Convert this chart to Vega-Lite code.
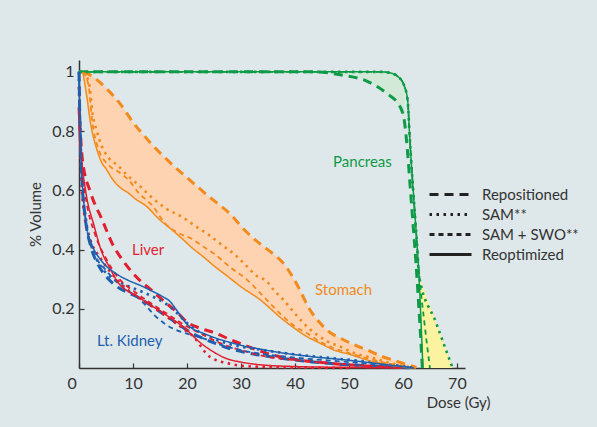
{
  "$schema": "https://vega.github.io/schema/vega-lite/v6.json",
  "width": 386,
  "height": 308,
  "autosize": {"type": "none"},
  "padding": {"left": 79, "top": 60, "right": 132, "bottom": 59},
  "background": "#dee8ea",
  "config": {
    "view": {"stroke": null},
    "font": "Lato",
    "axis": {"labelFont": "Lato", "titleFont": "Lato", "labelColor": "#333333", "titleColor": "#333333", "domainColor": "#333333", "tickColor": "#333333", "grid": false, "labelFontSize": 16, "titleFontSize": 15, "titleFontWeight": "normal", "domainWidth": 1.5, "tickWidth": 1.2},
    "legend": {"labelFont": "Lato", "labelFontSize": 15, "labelColor": "#333333"}
  },
  "datasets": {
    "fills": [
      {"organ": "Stomach", "x": 0.7, "lo": 1.0, "hi": 1.0},
      {"organ": "Stomach", "x": 1.3, "lo": 0.934, "hi": 0.995},
      {"organ": "Stomach", "x": 2.5, "lo": 0.8, "hi": 0.985},
      {"organ": "Stomach", "x": 3.45, "lo": 0.73, "hi": 0.97},
      {"organ": "Stomach", "x": 5, "lo": 0.673, "hi": 0.945},
      {"organ": "Stomach", "x": 7.5, "lo": 0.611, "hi": 0.895},
      {"organ": "Stomach", "x": 10, "lo": 0.58, "hi": 0.83},
      {"organ": "Stomach", "x": 13, "lo": 0.535, "hi": 0.765},
      {"organ": "Stomach", "x": 16.5, "lo": 0.475, "hi": 0.7},
      {"organ": "Stomach", "x": 20.5, "lo": 0.415, "hi": 0.635},
      {"organ": "Stomach", "x": 24, "lo": 0.36, "hi": 0.58},
      {"organ": "Stomach", "x": 28, "lo": 0.3, "hi": 0.52},
      {"organ": "Stomach", "x": 31, "lo": 0.26, "hi": 0.46},
      {"organ": "Stomach", "x": 33.5, "lo": 0.231, "hi": 0.42},
      {"organ": "Stomach", "x": 36, "lo": 0.19, "hi": 0.385},
      {"organ": "Stomach", "x": 37.8, "lo": 0.163, "hi": 0.355},
      {"organ": "Stomach", "x": 39.5, "lo": 0.14, "hi": 0.31},
      {"organ": "Stomach", "x": 41, "lo": 0.122, "hi": 0.26},
      {"organ": "Stomach", "x": 42.5, "lo": 0.103, "hi": 0.205},
      {"organ": "Stomach", "x": 44.5, "lo": 0.085, "hi": 0.155},
      {"organ": "Stomach", "x": 46.5, "lo": 0.068, "hi": 0.12},
      {"organ": "Stomach", "x": 48.5, "lo": 0.056, "hi": 0.1},
      {"organ": "Stomach", "x": 51, "lo": 0.041, "hi": 0.078},
      {"organ": "Stomach", "x": 53.5, "lo": 0.027, "hi": 0.06},
      {"organ": "Stomach", "x": 56, "lo": 0.016, "hi": 0.04},
      {"organ": "Stomach", "x": 58.5, "lo": 0.007, "hi": 0.025},
      {"organ": "Stomach", "x": 61, "lo": 0.002, "hi": 0.01},
      {"organ": "Stomach", "x": 62.5, "lo": 0, "hi": 0.002},
      {"organ": "Pancreas", "x": 44, "lo": 1.0, "hi": 1.0},
      {"organ": "Pancreas", "x": 48.4, "lo": 0.99, "hi": 1.0},
      {"organ": "Pancreas", "x": 53.4, "lo": 0.968, "hi": 1.0},
      {"organ": "Pancreas", "x": 56, "lo": 0.94, "hi": 1.0},
      {"organ": "Pancreas", "x": 57.5, "lo": 0.915, "hi": 0.997},
      {"organ": "Pancreas", "x": 59, "lo": 0.89, "hi": 0.985},
      {"organ": "Pancreas", "x": 59.6, "lo": 0.878, "hi": 0.975},
      {"organ": "Pancreas", "x": 60.3, "lo": 0.83, "hi": 0.95}
    ],
    "yellow": [
      {"y": 0.31, "left": 63.0, "right": 63.0},
      {"y": 0.18, "left": 63.3, "right": 65.6},
      {"y": 0.0, "left": 63.7, "right": 69.2}
    ],
    "labels": [
      {"organ": "Pancreas", "label": "Pancreas", "x": 52.5, "y": 0.697},
      {"organ": "Liver", "label": "Liver", "x": 12.8, "y": 0.4},
      {"organ": "Stomach", "label": "Stomach", "x": 49.0, "y": 0.264},
      {"organ": "Lt. Kidney", "label": "Lt. Kidney", "x": 9.4, "y": 0.09}
    ],
    "lines": [
      {"organ": "Pancreas", "style": "Repositioned", "x": 0, "y": 1},
      {"organ": "Pancreas", "style": "Repositioned", "x": 44, "y": 1},
      {"organ": "Pancreas", "style": "Repositioned", "x": 48.4, "y": 0.99},
      {"organ": "Pancreas", "style": "Repositioned", "x": 53.4, "y": 0.968},
      {"organ": "Pancreas", "style": "Repositioned", "x": 56.8, "y": 0.93},
      {"organ": "Pancreas", "style": "Repositioned", "x": 59.6, "y": 0.878},
      {"organ": "Pancreas", "style": "Repositioned", "x": 60.3, "y": 0.83},
      {"organ": "Pancreas", "style": "Repositioned", "x": 60.9, "y": 0.72},
      {"organ": "Pancreas", "style": "Repositioned", "x": 61.4, "y": 0.6},
      {"organ": "Pancreas", "style": "Repositioned", "x": 61.9, "y": 0.48},
      {"organ": "Pancreas", "style": "Repositioned", "x": 62.4, "y": 0.36},
      {"organ": "Pancreas", "style": "Repositioned", "x": 62.9, "y": 0.22},
      {"organ": "Pancreas", "style": "Repositioned", "x": 63.3, "y": 0.1},
      {"organ": "Pancreas", "style": "Repositioned", "x": 63.6, "y": 0},
      {"organ": "Pancreas", "style": "SAM**", "x": 0, "y": 1},
      {"organ": "Pancreas", "style": "SAM**", "x": 56, "y": 1},
      {"organ": "Pancreas", "style": "SAM**", "x": 57.5, "y": 0.997},
      {"organ": "Pancreas", "style": "SAM**", "x": 59, "y": 0.985},
      {"organ": "Pancreas", "style": "SAM**", "x": 60.2, "y": 0.955},
      {"organ": "Pancreas", "style": "SAM**", "x": 60.9, "y": 0.9},
      {"organ": "Pancreas", "style": "SAM**", "x": 61.2, "y": 0.8},
      {"organ": "Pancreas", "style": "SAM**", "x": 61.6, "y": 0.68},
      {"organ": "Pancreas", "style": "SAM**", "x": 62.1, "y": 0.55},
      {"organ": "Pancreas", "style": "SAM**", "x": 62.6, "y": 0.42},
      {"organ": "Pancreas", "style": "SAM**", "x": 63.0, "y": 0.31},
      {"organ": "Pancreas", "style": "SAM**", "x": 66.1, "y": 0.155},
      {"organ": "Pancreas", "style": "SAM**", "x": 69.2, "y": 0},
      {"organ": "Pancreas", "style": "SAM + SWO**", "x": 0, "y": 1},
      {"organ": "Pancreas", "style": "SAM + SWO**", "x": 56, "y": 1},
      {"organ": "Pancreas", "style": "SAM + SWO**", "x": 57.5, "y": 0.997},
      {"organ": "Pancreas", "style": "SAM + SWO**", "x": 59, "y": 0.985},
      {"organ": "Pancreas", "style": "SAM + SWO**", "x": 60.2, "y": 0.955},
      {"organ": "Pancreas", "style": "SAM + SWO**", "x": 60.9, "y": 0.9},
      {"organ": "Pancreas", "style": "SAM + SWO**", "x": 61.2, "y": 0.8},
      {"organ": "Pancreas", "style": "SAM + SWO**", "x": 61.6, "y": 0.68},
      {"organ": "Pancreas", "style": "SAM + SWO**", "x": 62.1, "y": 0.55},
      {"organ": "Pancreas", "style": "SAM + SWO**", "x": 62.6, "y": 0.42},
      {"organ": "Pancreas", "style": "SAM + SWO**", "x": 63.1, "y": 0.3},
      {"organ": "Pancreas", "style": "SAM + SWO**", "x": 64, "y": 0.15},
      {"organ": "Pancreas", "style": "SAM + SWO**", "x": 65, "y": 0},
      {"organ": "Pancreas", "style": "Reoptimized", "x": 0, "y": 1},
      {"organ": "Pancreas", "style": "Reoptimized", "x": 56, "y": 1},
      {"organ": "Pancreas", "style": "Reoptimized", "x": 57.5, "y": 0.997},
      {"organ": "Pancreas", "style": "Reoptimized", "x": 59, "y": 0.985},
      {"organ": "Pancreas", "style": "Reoptimized", "x": 60.2, "y": 0.955},
      {"organ": "Pancreas", "style": "Reoptimized", "x": 60.9, "y": 0.9},
      {"organ": "Pancreas", "style": "Reoptimized", "x": 61.2, "y": 0.8},
      {"organ": "Pancreas", "style": "Reoptimized", "x": 61.6, "y": 0.68},
      {"organ": "Pancreas", "style": "Reoptimized", "x": 62.1, "y": 0.55},
      {"organ": "Pancreas", "style": "Reoptimized", "x": 62.6, "y": 0.42},
      {"organ": "Pancreas", "style": "Reoptimized", "x": 63.0, "y": 0.3},
      {"organ": "Pancreas", "style": "Reoptimized", "x": 63.3, "y": 0.18},
      {"organ": "Pancreas", "style": "Reoptimized", "x": 63.7, "y": 0},

      {"organ": "Stomach", "style": "Repositioned", "x": 0.8, "y": 1},
      {"organ": "Stomach", "style": "Repositioned", "x": 2.5, "y": 0.985},
      {"organ": "Stomach", "style": "Repositioned", "x": 5, "y": 0.945},
      {"organ": "Stomach", "style": "Repositioned", "x": 7.5, "y": 0.895},
      {"organ": "Stomach", "style": "Repositioned", "x": 10, "y": 0.83},
      {"organ": "Stomach", "style": "Repositioned", "x": 13, "y": 0.765},
      {"organ": "Stomach", "style": "Repositioned", "x": 16.5, "y": 0.7},
      {"organ": "Stomach", "style": "Repositioned", "x": 20.5, "y": 0.635},
      {"organ": "Stomach", "style": "Repositioned", "x": 24, "y": 0.58},
      {"organ": "Stomach", "style": "Repositioned", "x": 28, "y": 0.52},
      {"organ": "Stomach", "style": "Repositioned", "x": 31, "y": 0.46},
      {"organ": "Stomach", "style": "Repositioned", "x": 33.5, "y": 0.42},
      {"organ": "Stomach", "style": "Repositioned", "x": 36, "y": 0.385},
      {"organ": "Stomach", "style": "Repositioned", "x": 37.8, "y": 0.355},
      {"organ": "Stomach", "style": "Repositioned", "x": 39.5, "y": 0.31},
      {"organ": "Stomach", "style": "Repositioned", "x": 41, "y": 0.26},
      {"organ": "Stomach", "style": "Repositioned", "x": 42.5, "y": 0.205},
      {"organ": "Stomach", "style": "Repositioned", "x": 44.5, "y": 0.155},
      {"organ": "Stomach", "style": "Repositioned", "x": 46.5, "y": 0.12},
      {"organ": "Stomach", "style": "Repositioned", "x": 48.5, "y": 0.1},
      {"organ": "Stomach", "style": "Repositioned", "x": 51, "y": 0.078},
      {"organ": "Stomach", "style": "Repositioned", "x": 53.5, "y": 0.06},
      {"organ": "Stomach", "style": "Repositioned", "x": 56, "y": 0.04},
      {"organ": "Stomach", "style": "Repositioned", "x": 58.5, "y": 0.025},
      {"organ": "Stomach", "style": "Repositioned", "x": 61, "y": 0.01},
      {"organ": "Stomach", "style": "Repositioned", "x": 62.5, "y": 0.002},
      {"organ": "Stomach", "style": "SAM**", "x": 0.8, "y": 1},
      {"organ": "Stomach", "style": "SAM**", "x": 1.9, "y": 0.957},
      {"organ": "Stomach", "style": "SAM**", "x": 2.5, "y": 0.86},
      {"organ": "Stomach", "style": "SAM**", "x": 3.3, "y": 0.8},
      {"organ": "Stomach", "style": "SAM**", "x": 4.2, "y": 0.75},
      {"organ": "Stomach", "style": "SAM**", "x": 5.6, "y": 0.707},
      {"organ": "Stomach", "style": "SAM**", "x": 7.1, "y": 0.685},
      {"organ": "Stomach", "style": "SAM**", "x": 9, "y": 0.65},
      {"organ": "Stomach", "style": "SAM**", "x": 11.1, "y": 0.617},
      {"organ": "Stomach", "style": "SAM**", "x": 13.6, "y": 0.574},
      {"organ": "Stomach", "style": "SAM**", "x": 16, "y": 0.54},
      {"organ": "Stomach", "style": "SAM**", "x": 19.2, "y": 0.509},
      {"organ": "Stomach", "style": "SAM**", "x": 21.5, "y": 0.48},
      {"organ": "Stomach", "style": "SAM**", "x": 24.2, "y": 0.447},
      {"organ": "Stomach", "style": "SAM**", "x": 26.5, "y": 0.415},
      {"organ": "Stomach", "style": "SAM**", "x": 29.1, "y": 0.379},
      {"organ": "Stomach", "style": "SAM**", "x": 31, "y": 0.345},
      {"organ": "Stomach", "style": "SAM**", "x": 33, "y": 0.31},
      {"organ": "Stomach", "style": "SAM**", "x": 34.7, "y": 0.294},
      {"organ": "Stomach", "style": "SAM**", "x": 36, "y": 0.265},
      {"organ": "Stomach", "style": "SAM**", "x": 37.8, "y": 0.231},
      {"organ": "Stomach", "style": "SAM**", "x": 39.5, "y": 0.195},
      {"organ": "Stomach", "style": "SAM**", "x": 41, "y": 0.163},
      {"organ": "Stomach", "style": "SAM**", "x": 42.5, "y": 0.135},
      {"organ": "Stomach", "style": "SAM**", "x": 44.1, "y": 0.112},
      {"organ": "Stomach", "style": "SAM**", "x": 46, "y": 0.09},
      {"organ": "Stomach", "style": "SAM**", "x": 48.4, "y": 0.072},
      {"organ": "Stomach", "style": "SAM**", "x": 51, "y": 0.05},
      {"organ": "Stomach", "style": "SAM**", "x": 54.6, "y": 0.033},
      {"organ": "Stomach", "style": "SAM**", "x": 58, "y": 0.015},
      {"organ": "Stomach", "style": "SAM**", "x": 61, "y": 0.004},
      {"organ": "Stomach", "style": "SAM + SWO**", "x": 0.8, "y": 1},
      {"organ": "Stomach", "style": "SAM + SWO**", "x": 1.8, "y": 0.95},
      {"organ": "Stomach", "style": "SAM + SWO**", "x": 2.4, "y": 0.84},
      {"organ": "Stomach", "style": "SAM + SWO**", "x": 3.6, "y": 0.74},
      {"organ": "Stomach", "style": "SAM + SWO**", "x": 5.5, "y": 0.685},
      {"organ": "Stomach", "style": "SAM + SWO**", "x": 7.5, "y": 0.66},
      {"organ": "Stomach", "style": "SAM + SWO**", "x": 9.2, "y": 0.635},
      {"organ": "Stomach", "style": "SAM + SWO**", "x": 11.1, "y": 0.59},
      {"organ": "Stomach", "style": "SAM + SWO**", "x": 13.5, "y": 0.55},
      {"organ": "Stomach", "style": "SAM + SWO**", "x": 16.1, "y": 0.485},
      {"organ": "Stomach", "style": "SAM + SWO**", "x": 18.5, "y": 0.455},
      {"organ": "Stomach", "style": "SAM + SWO**", "x": 21, "y": 0.435},
      {"organ": "Stomach", "style": "SAM + SWO**", "x": 23, "y": 0.41},
      {"organ": "Stomach", "style": "SAM + SWO**", "x": 25.4, "y": 0.381},
      {"organ": "Stomach", "style": "SAM + SWO**", "x": 28, "y": 0.34},
      {"organ": "Stomach", "style": "SAM + SWO**", "x": 31, "y": 0.3},
      {"organ": "Stomach", "style": "SAM + SWO**", "x": 34.1, "y": 0.243},
      {"organ": "Stomach", "style": "SAM + SWO**", "x": 37.8, "y": 0.174},
      {"organ": "Stomach", "style": "SAM + SWO**", "x": 40, "y": 0.14},
      {"organ": "Stomach", "style": "SAM + SWO**", "x": 42.2, "y": 0.118},
      {"organ": "Stomach", "style": "SAM + SWO**", "x": 44.5, "y": 0.09},
      {"organ": "Stomach", "style": "SAM + SWO**", "x": 46.5, "y": 0.072},
      {"organ": "Stomach", "style": "SAM + SWO**", "x": 50, "y": 0.05},
      {"organ": "Stomach", "style": "SAM + SWO**", "x": 54, "y": 0.03},
      {"organ": "Stomach", "style": "SAM + SWO**", "x": 58, "y": 0.012},
      {"organ": "Stomach", "style": "SAM + SWO**", "x": 61, "y": 0.003},
      {"organ": "Stomach", "style": "Reoptimized", "x": 0.7, "y": 1},
      {"organ": "Stomach", "style": "Reoptimized", "x": 1.3, "y": 0.934},
      {"organ": "Stomach", "style": "Reoptimized", "x": 2.2, "y": 0.82},
      {"organ": "Stomach", "style": "Reoptimized", "x": 3.45, "y": 0.73},
      {"organ": "Stomach", "style": "Reoptimized", "x": 4.3, "y": 0.69},
      {"organ": "Stomach", "style": "Reoptimized", "x": 5, "y": 0.673},
      {"organ": "Stomach", "style": "Reoptimized", "x": 6.1, "y": 0.64},
      {"organ": "Stomach", "style": "Reoptimized", "x": 7.5, "y": 0.611},
      {"organ": "Stomach", "style": "Reoptimized", "x": 9.2, "y": 0.59},
      {"organ": "Stomach", "style": "Reoptimized", "x": 10.5, "y": 0.57},
      {"organ": "Stomach", "style": "Reoptimized", "x": 12.3, "y": 0.549},
      {"organ": "Stomach", "style": "Reoptimized", "x": 14.8, "y": 0.503},
      {"organ": "Stomach", "style": "Reoptimized", "x": 17, "y": 0.47},
      {"organ": "Stomach", "style": "Reoptimized", "x": 19.2, "y": 0.435},
      {"organ": "Stomach", "style": "Reoptimized", "x": 21, "y": 0.405},
      {"organ": "Stomach", "style": "Reoptimized", "x": 23.2, "y": 0.373},
      {"organ": "Stomach", "style": "Reoptimized", "x": 25, "y": 0.345},
      {"organ": "Stomach", "style": "Reoptimized", "x": 27.5, "y": 0.31},
      {"organ": "Stomach", "style": "Reoptimized", "x": 29.8, "y": 0.277},
      {"organ": "Stomach", "style": "Reoptimized", "x": 33.5, "y": 0.231},
      {"organ": "Stomach", "style": "Reoptimized", "x": 37.8, "y": 0.163},
      {"organ": "Stomach", "style": "Reoptimized", "x": 40, "y": 0.133},
      {"organ": "Stomach", "style": "Reoptimized", "x": 42.2, "y": 0.106},
      {"organ": "Stomach", "style": "Reoptimized", "x": 44.5, "y": 0.085},
      {"organ": "Stomach", "style": "Reoptimized", "x": 47.2, "y": 0.061},
      {"organ": "Stomach", "style": "Reoptimized", "x": 50.3, "y": 0.045},
      {"organ": "Stomach", "style": "Reoptimized", "x": 53.4, "y": 0.027},
      {"organ": "Stomach", "style": "Reoptimized", "x": 56.5, "y": 0.014},
      {"organ": "Stomach", "style": "Reoptimized", "x": 59.6, "y": 0.004},
      {"organ": "Stomach", "style": "Reoptimized", "x": 62, "y": 0},

      {"organ": "Liver", "style": "Repositioned", "x": 0, "y": 0.88},
      {"organ": "Liver", "style": "Repositioned", "x": 0.65, "y": 0.7},
      {"organ": "Liver", "style": "Repositioned", "x": 2.2, "y": 0.59},
      {"organ": "Liver", "style": "Repositioned", "x": 4.3, "y": 0.5},
      {"organ": "Liver", "style": "Repositioned", "x": 6.3, "y": 0.415},
      {"organ": "Liver", "style": "Repositioned", "x": 8, "y": 0.366},
      {"organ": "Liver", "style": "Repositioned", "x": 10.5, "y": 0.31},
      {"organ": "Liver", "style": "Repositioned", "x": 13.6, "y": 0.26},
      {"organ": "Liver", "style": "Repositioned", "x": 16.1, "y": 0.22},
      {"organ": "Liver", "style": "Repositioned", "x": 18.3, "y": 0.186},
      {"organ": "Liver", "style": "Repositioned", "x": 19.8, "y": 0.158},
      {"organ": "Liver", "style": "Repositioned", "x": 22.3, "y": 0.135},
      {"organ": "Liver", "style": "Repositioned", "x": 25, "y": 0.12},
      {"organ": "Liver", "style": "Repositioned", "x": 28.5, "y": 0.092},
      {"organ": "Liver", "style": "Repositioned", "x": 31, "y": 0.075},
      {"organ": "Liver", "style": "Repositioned", "x": 34.7, "y": 0.05},
      {"organ": "Liver", "style": "Repositioned", "x": 40.3, "y": 0.028},
      {"organ": "Liver", "style": "Repositioned", "x": 45.9, "y": 0.017},
      {"organ": "Liver", "style": "Repositioned", "x": 52, "y": 0.008},
      {"organ": "Liver", "style": "Repositioned", "x": 60, "y": 0.002},
      {"organ": "Liver", "style": "SAM**", "x": 0, "y": 0.95},
      {"organ": "Liver", "style": "SAM**", "x": 0.2, "y": 0.8},
      {"organ": "Liver", "style": "SAM**", "x": 0.4, "y": 0.65},
      {"organ": "Liver", "style": "SAM**", "x": 0.9, "y": 0.53},
      {"organ": "Liver", "style": "SAM**", "x": 2, "y": 0.44},
      {"organ": "Liver", "style": "SAM**", "x": 4, "y": 0.37},
      {"organ": "Liver", "style": "SAM**", "x": 6, "y": 0.32},
      {"organ": "Liver", "style": "SAM**", "x": 8, "y": 0.28},
      {"organ": "Liver", "style": "SAM**", "x": 10.5, "y": 0.245},
      {"organ": "Liver", "style": "SAM**", "x": 13, "y": 0.215},
      {"organ": "Liver", "style": "SAM**", "x": 16.5, "y": 0.17},
      {"organ": "Liver", "style": "SAM**", "x": 19.5, "y": 0.13},
      {"organ": "Liver", "style": "SAM**", "x": 21.5, "y": 0.1},
      {"organ": "Liver", "style": "SAM**", "x": 22.5, "y": 0.075},
      {"organ": "Liver", "style": "SAM**", "x": 23.5, "y": 0.05},
      {"organ": "Liver", "style": "SAM**", "x": 25, "y": 0.03},
      {"organ": "Liver", "style": "SAM**", "x": 27.3, "y": 0.017},
      {"organ": "Liver", "style": "SAM**", "x": 31, "y": 0.006},
      {"organ": "Liver", "style": "SAM**", "x": 40, "y": 0.002},
      {"organ": "Liver", "style": "SAM**", "x": 50, "y": 0},
      {"organ": "Liver", "style": "SAM + SWO**", "x": 0, "y": 0.85},
      {"organ": "Liver", "style": "SAM + SWO**", "x": 0.5, "y": 0.68},
      {"organ": "Liver", "style": "SAM + SWO**", "x": 1.3, "y": 0.57},
      {"organ": "Liver", "style": "SAM + SWO**", "x": 3, "y": 0.45},
      {"organ": "Liver", "style": "SAM + SWO**", "x": 5, "y": 0.37},
      {"organ": "Liver", "style": "SAM + SWO**", "x": 7.5, "y": 0.3},
      {"organ": "Liver", "style": "SAM + SWO**", "x": 10.5, "y": 0.255},
      {"organ": "Liver", "style": "SAM + SWO**", "x": 14, "y": 0.21},
      {"organ": "Liver", "style": "SAM + SWO**", "x": 17, "y": 0.175},
      {"organ": "Liver", "style": "SAM + SWO**", "x": 20, "y": 0.14},
      {"organ": "Liver", "style": "SAM + SWO**", "x": 23, "y": 0.112},
      {"organ": "Liver", "style": "SAM + SWO**", "x": 26, "y": 0.085},
      {"organ": "Liver", "style": "SAM + SWO**", "x": 30, "y": 0.06},
      {"organ": "Liver", "style": "SAM + SWO**", "x": 35, "y": 0.038},
      {"organ": "Liver", "style": "SAM + SWO**", "x": 40, "y": 0.027},
      {"organ": "Liver", "style": "SAM + SWO**", "x": 50, "y": 0.012},
      {"organ": "Liver", "style": "SAM + SWO**", "x": 60, "y": 0.002},
      {"organ": "Liver", "style": "Reoptimized", "x": 0, "y": 0.82},
      {"organ": "Liver", "style": "Reoptimized", "x": 0.5, "y": 0.7},
      {"organ": "Liver", "style": "Reoptimized", "x": 1.3, "y": 0.59},
      {"organ": "Liver", "style": "Reoptimized", "x": 2.8, "y": 0.48},
      {"organ": "Liver", "style": "Reoptimized", "x": 4.25, "y": 0.39},
      {"organ": "Liver", "style": "Reoptimized", "x": 5.5, "y": 0.345},
      {"organ": "Liver", "style": "Reoptimized", "x": 7.4, "y": 0.285},
      {"organ": "Liver", "style": "Reoptimized", "x": 9, "y": 0.26},
      {"organ": "Liver", "style": "Reoptimized", "x": 10.5, "y": 0.245},
      {"organ": "Liver", "style": "Reoptimized", "x": 13, "y": 0.215},
      {"organ": "Liver", "style": "Reoptimized", "x": 15, "y": 0.193},
      {"organ": "Liver", "style": "Reoptimized", "x": 16.7, "y": 0.172},
      {"organ": "Liver", "style": "Reoptimized", "x": 18.5, "y": 0.15},
      {"organ": "Liver", "style": "Reoptimized", "x": 19.8, "y": 0.132},
      {"organ": "Liver", "style": "Reoptimized", "x": 21, "y": 0.11},
      {"organ": "Liver", "style": "Reoptimized", "x": 22.3, "y": 0.088},
      {"organ": "Liver", "style": "Reoptimized", "x": 24, "y": 0.065},
      {"organ": "Liver", "style": "Reoptimized", "x": 25.5, "y": 0.048},
      {"organ": "Liver", "style": "Reoptimized", "x": 27.3, "y": 0.032},
      {"organ": "Liver", "style": "Reoptimized", "x": 30, "y": 0.02},
      {"organ": "Liver", "style": "Reoptimized", "x": 33.5, "y": 0.011},
      {"organ": "Liver", "style": "Reoptimized", "x": 40, "y": 0.005},
      {"organ": "Liver", "style": "Reoptimized", "x": 50, "y": 0.002},
      {"organ": "Liver", "style": "Reoptimized", "x": 60, "y": 0},

      {"organ": "Lt. Kidney", "style": "Repositioned", "x": 0, "y": 1},
      {"organ": "Lt. Kidney", "style": "Repositioned", "x": 0.2, "y": 0.8},
      {"organ": "Lt. Kidney", "style": "Repositioned", "x": 0.6, "y": 0.62},
      {"organ": "Lt. Kidney", "style": "Repositioned", "x": 1.2, "y": 0.5},
      {"organ": "Lt. Kidney", "style": "Repositioned", "x": 2.2, "y": 0.41},
      {"organ": "Lt. Kidney", "style": "Repositioned", "x": 3.5, "y": 0.35},
      {"organ": "Lt. Kidney", "style": "Repositioned", "x": 5, "y": 0.31},
      {"organ": "Lt. Kidney", "style": "Repositioned", "x": 7, "y": 0.275},
      {"organ": "Lt. Kidney", "style": "Repositioned", "x": 9, "y": 0.255},
      {"organ": "Lt. Kidney", "style": "Repositioned", "x": 11, "y": 0.238},
      {"organ": "Lt. Kidney", "style": "Repositioned", "x": 13, "y": 0.215},
      {"organ": "Lt. Kidney", "style": "Repositioned", "x": 15, "y": 0.19},
      {"organ": "Lt. Kidney", "style": "Repositioned", "x": 17, "y": 0.165},
      {"organ": "Lt. Kidney", "style": "Repositioned", "x": 19, "y": 0.14},
      {"organ": "Lt. Kidney", "style": "Repositioned", "x": 21, "y": 0.117},
      {"organ": "Lt. Kidney", "style": "Repositioned", "x": 23, "y": 0.1},
      {"organ": "Lt. Kidney", "style": "Repositioned", "x": 25, "y": 0.085},
      {"organ": "Lt. Kidney", "style": "Repositioned", "x": 28, "y": 0.065},
      {"organ": "Lt. Kidney", "style": "Repositioned", "x": 31, "y": 0.052},
      {"organ": "Lt. Kidney", "style": "Repositioned", "x": 36.6, "y": 0.035},
      {"organ": "Lt. Kidney", "style": "Repositioned", "x": 44.7, "y": 0.018},
      {"organ": "Lt. Kidney", "style": "Repositioned", "x": 52, "y": 0.009},
      {"organ": "Lt. Kidney", "style": "Repositioned", "x": 60, "y": 0.002},
      {"organ": "Lt. Kidney", "style": "Repositioned", "x": 62, "y": 0},
      {"organ": "Lt. Kidney", "style": "SAM**", "x": 0, "y": 1},
      {"organ": "Lt. Kidney", "style": "SAM**", "x": 0.2, "y": 0.82},
      {"organ": "Lt. Kidney", "style": "SAM**", "x": 0.6, "y": 0.63},
      {"organ": "Lt. Kidney", "style": "SAM**", "x": 1.3, "y": 0.5},
      {"organ": "Lt. Kidney", "style": "SAM**", "x": 2.5, "y": 0.4},
      {"organ": "Lt. Kidney", "style": "SAM**", "x": 4, "y": 0.345},
      {"organ": "Lt. Kidney", "style": "SAM**", "x": 6, "y": 0.305},
      {"organ": "Lt. Kidney", "style": "SAM**", "x": 8, "y": 0.285},
      {"organ": "Lt. Kidney", "style": "SAM**", "x": 10, "y": 0.27},
      {"organ": "Lt. Kidney", "style": "SAM**", "x": 12, "y": 0.255},
      {"organ": "Lt. Kidney", "style": "SAM**", "x": 14, "y": 0.238},
      {"organ": "Lt. Kidney", "style": "SAM**", "x": 16, "y": 0.218},
      {"organ": "Lt. Kidney", "style": "SAM**", "x": 18, "y": 0.188},
      {"organ": "Lt. Kidney", "style": "SAM**", "x": 20, "y": 0.152},
      {"organ": "Lt. Kidney", "style": "SAM**", "x": 22, "y": 0.125},
      {"organ": "Lt. Kidney", "style": "SAM**", "x": 24.8, "y": 0.1},
      {"organ": "Lt. Kidney", "style": "SAM**", "x": 28, "y": 0.08},
      {"organ": "Lt. Kidney", "style": "SAM**", "x": 33.5, "y": 0.062},
      {"organ": "Lt. Kidney", "style": "SAM**", "x": 40, "y": 0.046},
      {"organ": "Lt. Kidney", "style": "SAM**", "x": 47, "y": 0.033},
      {"organ": "Lt. Kidney", "style": "SAM**", "x": 54, "y": 0.02},
      {"organ": "Lt. Kidney", "style": "SAM**", "x": 60, "y": 0.006},
      {"organ": "Lt. Kidney", "style": "SAM**", "x": 62, "y": 0},
      {"organ": "Lt. Kidney", "style": "SAM + SWO**", "x": 0, "y": 1},
      {"organ": "Lt. Kidney", "style": "SAM + SWO**", "x": 0.3, "y": 0.75},
      {"organ": "Lt. Kidney", "style": "SAM + SWO**", "x": 0.8, "y": 0.58},
      {"organ": "Lt. Kidney", "style": "SAM + SWO**", "x": 1.6, "y": 0.46},
      {"organ": "Lt. Kidney", "style": "SAM + SWO**", "x": 3, "y": 0.38},
      {"organ": "Lt. Kidney", "style": "SAM + SWO**", "x": 5, "y": 0.33},
      {"organ": "Lt. Kidney", "style": "SAM + SWO**", "x": 7, "y": 0.29},
      {"organ": "Lt. Kidney", "style": "SAM + SWO**", "x": 9, "y": 0.26},
      {"organ": "Lt. Kidney", "style": "SAM + SWO**", "x": 10.5, "y": 0.245},
      {"organ": "Lt. Kidney", "style": "SAM + SWO**", "x": 12, "y": 0.218},
      {"organ": "Lt. Kidney", "style": "SAM + SWO**", "x": 14, "y": 0.178},
      {"organ": "Lt. Kidney", "style": "SAM + SWO**", "x": 16, "y": 0.148},
      {"organ": "Lt. Kidney", "style": "SAM + SWO**", "x": 18, "y": 0.128},
      {"organ": "Lt. Kidney", "style": "SAM + SWO**", "x": 20, "y": 0.116},
      {"organ": "Lt. Kidney", "style": "SAM + SWO**", "x": 23, "y": 0.1},
      {"organ": "Lt. Kidney", "style": "SAM + SWO**", "x": 26, "y": 0.08},
      {"organ": "Lt. Kidney", "style": "SAM + SWO**", "x": 30, "y": 0.06},
      {"organ": "Lt. Kidney", "style": "SAM + SWO**", "x": 35, "y": 0.045},
      {"organ": "Lt. Kidney", "style": "SAM + SWO**", "x": 40, "y": 0.035},
      {"organ": "Lt. Kidney", "style": "SAM + SWO**", "x": 50, "y": 0.02},
      {"organ": "Lt. Kidney", "style": "SAM + SWO**", "x": 60, "y": 0.004},
      {"organ": "Lt. Kidney", "style": "SAM + SWO**", "x": 62, "y": 0},
      {"organ": "Lt. Kidney", "style": "Reoptimized", "x": 0, "y": 1},
      {"organ": "Lt. Kidney", "style": "Reoptimized", "x": 0.1, "y": 0.9},
      {"organ": "Lt. Kidney", "style": "Reoptimized", "x": 0.35, "y": 0.72},
      {"organ": "Lt. Kidney", "style": "Reoptimized", "x": 0.8, "y": 0.58},
      {"organ": "Lt. Kidney", "style": "Reoptimized", "x": 1.5, "y": 0.467},
      {"organ": "Lt. Kidney", "style": "Reoptimized", "x": 2.4, "y": 0.416},
      {"organ": "Lt. Kidney", "style": "Reoptimized", "x": 4.25, "y": 0.36},
      {"organ": "Lt. Kidney", "style": "Reoptimized", "x": 6.75, "y": 0.32},
      {"organ": "Lt. Kidney", "style": "Reoptimized", "x": 9, "y": 0.297},
      {"organ": "Lt. Kidney", "style": "Reoptimized", "x": 11.7, "y": 0.276},
      {"organ": "Lt. Kidney", "style": "Reoptimized", "x": 13.5, "y": 0.26},
      {"organ": "Lt. Kidney", "style": "Reoptimized", "x": 15.4, "y": 0.242},
      {"organ": "Lt. Kidney", "style": "Reoptimized", "x": 17, "y": 0.222},
      {"organ": "Lt. Kidney", "style": "Reoptimized", "x": 17.9, "y": 0.2},
      {"organ": "Lt. Kidney", "style": "Reoptimized", "x": 19, "y": 0.172},
      {"organ": "Lt. Kidney", "style": "Reoptimized", "x": 19.8, "y": 0.152},
      {"organ": "Lt. Kidney", "style": "Reoptimized", "x": 21, "y": 0.133},
      {"organ": "Lt. Kidney", "style": "Reoptimized", "x": 22.9, "y": 0.118},
      {"organ": "Lt. Kidney", "style": "Reoptimized", "x": 25.5, "y": 0.1},
      {"organ": "Lt. Kidney", "style": "Reoptimized", "x": 28.5, "y": 0.084},
      {"organ": "Lt. Kidney", "style": "Reoptimized", "x": 30.4, "y": 0.075},
      {"organ": "Lt. Kidney", "style": "Reoptimized", "x": 33.5, "y": 0.064},
      {"organ": "Lt. Kidney", "style": "Reoptimized", "x": 36.6, "y": 0.054},
      {"organ": "Lt. Kidney", "style": "Reoptimized", "x": 42.8, "y": 0.039},
      {"organ": "Lt. Kidney", "style": "Reoptimized", "x": 49, "y": 0.028},
      {"organ": "Lt. Kidney", "style": "Reoptimized", "x": 55.3, "y": 0.015},
      {"organ": "Lt. Kidney", "style": "Reoptimized", "x": 60.2, "y": 0.004},
      {"organ": "Lt. Kidney", "style": "Reoptimized", "x": 62, "y": 0}
    ]
  },
  "layer": [
    {
      "data": {"name": "fills"},
      "mark": {"type": "area", "interpolate": "monotone"},
      "encoding": {
        "x": {"field": "x", "type": "quantitative", "scale": {"domain": [0, 71.5], "nice": false, "zero": false},
          "axis": {"values": [0, 10, 20, 30, 40, 50, 60, 70], "title": "Dose (Gy)", "tickSize": -5, "labelPadding": 12, "labelOverlap": false,
            "labelOffset": {"condition": {"test": "datum.value === 0", "value": -12}, "value": 0},
            "titleAnchor": "end", "titleX": 411, "titleY": 39, "titleAlign": "right", "titleBaseline": "alphabetic", "titleFontSize": 15}},
        "y": {"field": "lo", "type": "quantitative", "scale": {"domain": [0, 1.04], "nice": false},
          "axis": {"values": [0.2, 0.4, 0.6, 0.8, 1], "title": "% Volume", "tickSize": -5, "labelPadding": 10, "labelExpr": "datum.value == 1 ? '1' : datum.label", "titlePadding": 8}},
        "y2": {"field": "hi"},
        "fill": {"field": "organ", "type": "nominal", "scale": {"domain": ["Stomach", "Pancreas"], "range": ["#fdd3b1", "#d3e9d8"]}, "legend": null}
      }
    },
    {
      "data": {"name": "yellow"},
      "mark": {"type": "area", "color": "#fbf39f", "orient": "horizontal"},
      "encoding": {
        "y": {"field": "y", "type": "quantitative"},
        "x": {"field": "left", "type": "quantitative"},
        "x2": {"field": "right"}
      }
    },
    {
      "data": {"name": "lines"},
      "transform": [{"filter": "datum.style === 'Repositioned'"}],
      "mark": {"type": "line", "interpolate": "monotone", "strokeCap": "butt", "strokeWidth": 3},
      "encoding": {
        "x": {"field": "x", "type": "quantitative"},
        "y": {"field": "y", "type": "quantitative"},
        "detail": {"field": "organ"},
        "color": {"field": "organ", "type": "nominal", "scale": {"domain": ["Pancreas", "Stomach", "Liver", "Lt. Kidney"], "range": ["#0e9a47", "#f28a1c", "#e31d2d", "#1e5fae"]}, "legend": null},
        "strokeDash": {"field": "style", "type": "nominal", "title": null,
          "scale": {"domain": ["Repositioned", "SAM**", "SAM + SWO**", "Reoptimized"], "range": [[9, 6], [2.5, 4.5], [5, 4], [1, 0]]},
          "legend": {"orient": "none", "legendX": 360, "legendY": 123, "symbolType": "M-2.1,0H2.1", "symbolSize": 400, "symbolStrokeColor": "#222222", "symbolStrokeWidth": 3, "labelOffset": 20, "rowPadding": 0}}
      }
    },
    {
      "data": {"name": "lines"},
      "transform": [{"filter": "datum.style === 'SAM**'"}],
      "mark": {"type": "line", "interpolate": "monotone", "strokeCap": "butt", "strokeWidth": 2.6},
      "encoding": {
        "x": {"field": "x", "type": "quantitative"},
        "y": {"field": "y", "type": "quantitative"},
        "detail": {"field": "organ"},
        "color": {"field": "organ", "type": "nominal", "legend": null},
        "strokeDash": {"field": "style", "type": "nominal"}
      }
    },
    {
      "data": {"name": "lines"},
      "transform": [{"filter": "datum.style === 'SAM + SWO**'"}],
      "mark": {"type": "line", "interpolate": "monotone", "strokeCap": "butt", "strokeWidth": 1.8},
      "encoding": {
        "x": {"field": "x", "type": "quantitative"},
        "y": {"field": "y", "type": "quantitative"},
        "detail": {"field": "organ"},
        "color": {"field": "organ", "type": "nominal", "legend": null},
        "strokeDash": {"field": "style", "type": "nominal"}
      }
    },
    {
      "data": {"name": "lines"},
      "transform": [{"filter": "datum.style === 'Reoptimized'"}],
      "mark": {"type": "line", "interpolate": "monotone", "strokeCap": "butt", "strokeWidth": 1.5},
      "encoding": {
        "x": {"field": "x", "type": "quantitative"},
        "y": {"field": "y", "type": "quantitative"},
        "detail": {"field": "organ"},
        "color": {"field": "organ", "type": "nominal", "legend": null},
        "strokeDash": {"field": "style", "type": "nominal"}
      }
    },
    {
      "data": {"name": "labels"},
      "mark": {"type": "text", "fontSize": 15, "font": "Lato", "align": "center", "baseline": "middle"},
      "encoding": {
        "x": {"field": "x", "type": "quantitative"},
        "y": {"field": "y", "type": "quantitative"},
        "text": {"field": "label"},
        "color": {"field": "organ", "type": "nominal", "legend": null}
      }
    }
  ]
}
